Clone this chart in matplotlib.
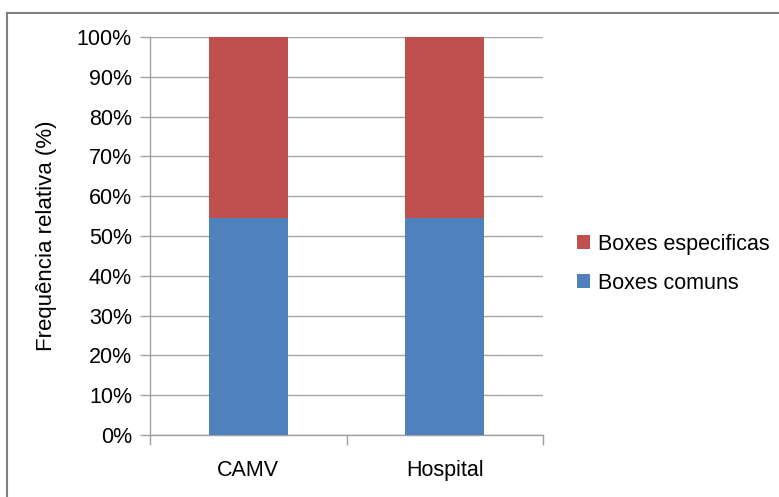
import matplotlib
matplotlib.use("Agg")
import matplotlib.pyplot as plt
from matplotlib.lines import Line2D
import numpy as np

plt.rcParams['font.family'] = ['Liberation Sans', 'DejaVu Sans']

categories = ["CAMV", "Hospital"]
comuns = [54.5, 54.5]
especificas = [45.5, 45.5]
yticks = [0, 10, 20, 30, 40, 50, 60, 70, 80, 90, 100]
ytick_labels = [f"{v}%" for v in yticks]

FS = 15.5
W, H = 779, 497
fig = plt.figure(figsize=(W / 100, H / 100), dpi=100)
ax = fig.add_axes([150 / W, 1 - 435 / H, (543 - 150) / W, (435 - 37) / H])

x = np.arange(len(categories))
b1 = ax.bar(x, comuns, width=0.4, color="#4F81BD", label="Boxes comuns", zorder=3)
b2 = ax.bar(x, especificas, width=0.4, bottom=comuns, color="#C0504D",
            label="Boxes especificas", zorder=3)

ax.set_xlim(-0.5, len(categories) - 0.5)
ax.set_ylim(0, 100)
ax.set_yticks(yticks)
ax.set_yticklabels(ytick_labels, fontsize=FS)
ax.set_xticks(x)
ax.set_xticklabels(categories, fontsize=FS)
ax.tick_params(axis='x', length=0, pad=18)
ax.set_xticks([-0.5, 0.5, 1.5], minor=True)
ax.tick_params(axis='x', which='minor', length=7, color="#A0A0A0", width=1, direction='out')
ax.tick_params(axis='y', length=7, color="#A0A0A0", width=1, direction='out', pad=6)
ax.yaxis.grid(True, color="#A6A6A6", linewidth=1, zorder=0)
ax.set_axisbelow(True)
for s in ["top", "right"]:
    ax.spines[s].set_visible(False)
for s in ["left", "bottom"]:
    ax.spines[s].set_color("#A0A0A0")
    ax.spines[s].set_linewidth(1)

ax.set_ylabel("Frequência relativa (%)", fontsize=FS + 0.5, labelpad=14)

handles = [b2, b1]
leg = fig.legend(handles, [h.get_label() for h in handles], loc="upper left",
                 bbox_to_anchor=(568 / W, 1 - 225 / H), frameon=False,
                 fontsize=FS, handlelength=0.6, handleheight=0.6,
                 handletextpad=0.4, labelspacing=0.85, borderaxespad=0)

# outer frame (partially visible)
fig.add_artist(Line2D([7 / W, 1.0], [1 - 13 / H, 1 - 13 / H], transform=fig.transFigure,
                      color="#808080", linewidth=1.5))
fig.add_artist(Line2D([7 / W, 7 / W], [0, 1 - 13 / H], transform=fig.transFigure,
                      color="#808080", linewidth=1.5))

fig.savefig("out.png", dpi=100)
